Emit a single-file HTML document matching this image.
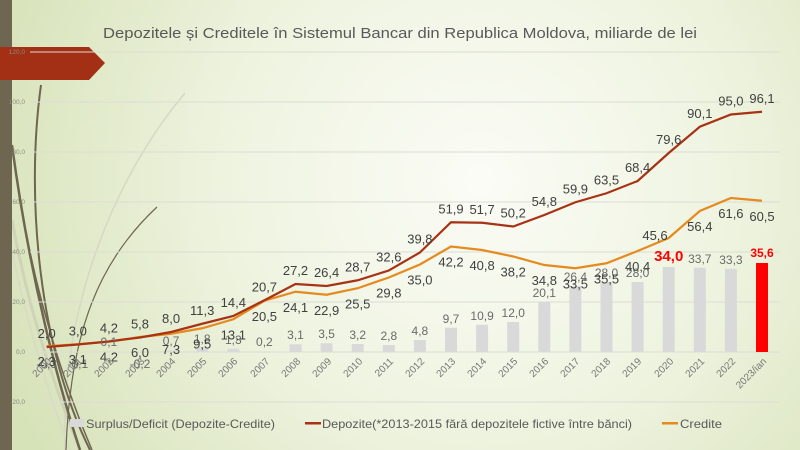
<!DOCTYPE html>
<html><head><meta charset="utf-8"><style>
html,body{margin:0;padding:0;width:800px;height:450px;overflow:hidden}
svg{display:block;font-family:"Liberation Sans",sans-serif}
</style></head><body>
<svg width="800" height="450" viewBox="0 0 800 450" xmlns="http://www.w3.org/2000/svg">
<defs>
<radialGradient id="bg" cx="480" cy="180" r="520" gradientUnits="userSpaceOnUse">
<stop offset="0" stop-color="#fbfcf6"/><stop offset="0.5" stop-color="#eef3df"/><stop offset="1" stop-color="#d6e2b8"/>
</radialGradient>
</defs>
<rect width="800" height="450" fill="url(#bg)"/>
<!-- decorative curves -->
<g fill="none">
<path d="M185,93 C120,170 60,300 65,450" stroke="#d6d8c4" stroke-width="1.5"/>
<path d="M12,220 C30,320 60,400 80,450" stroke="#cfd3b8" stroke-width="3"/>
<path d="M12,250 C30,340 55,410 70,450" stroke="#d8dcc4" stroke-width="2"/>
<path d="M41,85 C25,200 40,350 90,450" stroke="#6e6650" stroke-width="2"/>
<path d="M12,145 C30,280 60,390 80,450" stroke="#6e6650" stroke-width="2.5"/>
<path d="M20,200 C40,320 75,410 92,450" stroke="#6e6650" stroke-width="1.5"/>
<path d="M157,207 C100,260 70,330 66,450" stroke="#6e6650" stroke-width="1.2"/>
</g>
<rect x="0" y="0" width="12" height="450" fill="#6e6650"/>
<polygon points="0,47 89,47 105,63 89,80 0,80" fill="#a33015"/>
<!-- grid -->
<g stroke="#dcdcd4" stroke-width="1">
<line x1="30" x2="780" y1="52" y2="52"/><line x1="30" x2="780" y1="102" y2="102"/>
<line x1="30" x2="780" y1="152" y2="152"/><line x1="30" x2="780" y1="202" y2="202"/>
<line x1="30" x2="780" y1="252" y2="252"/><line x1="30" x2="780" y1="302" y2="302"/>
<line x1="30" x2="780" y1="352" y2="352"/><line x1="30" x2="780" y1="402" y2="402"/>
</g>
<g font-size="6.5" fill="#8a8a80" text-anchor="end">
<text x="25" y="54">120,0</text><text x="25" y="104">100,0</text><text x="25" y="154">80,0</text>
<text x="25" y="204">60,0</text><text x="25" y="254">40,0</text><text x="25" y="304">20,0</text>
<text x="25" y="354">0,0</text><text x="25" y="404">-20,0</text>
</g>
<text x="400" y="38" text-anchor="middle" font-size="15" fill="#595959" textLength="594" lengthAdjust="spacingAndGlyphs">Depozitele și Creditele în Sistemul Bancar din Republica Moldova, miliarde de lei</text>
<!-- bars -->
<g fill="#d9d9d9">
<rect x="40.7" y="352" width="12" height="0.75"/><rect x="71.8" y="352" width="12" height="0.25"/>
<rect x="102.9" y="351.75" width="12" height="0.25"/><rect x="134" y="352" width="12" height="0.5"/>
<rect x="165.1" y="350.25" width="12" height="1.75"/><rect x="196.2" y="347.5" width="12" height="4.5"/>
<rect x="227.3" y="348.75" width="12" height="3.25"/><rect x="258.4" y="351.5" width="12" height="0.5"/>
<rect x="289.5" y="344.25" width="12" height="7.75"/><rect x="320.6" y="343.25" width="12" height="8.75"/>
<rect x="351.7" y="344" width="12" height="8"/><rect x="382.8" y="345" width="12" height="7"/>
<rect x="413.9" y="340" width="12" height="12"/><rect x="445" y="327.75" width="12" height="24.25"/>
<rect x="476.1" y="324.75" width="12" height="27.25"/><rect x="507.2" y="322" width="12" height="30"/>
<rect x="538.3" y="301.75" width="12" height="50.25"/><rect x="569.4" y="286" width="12" height="66"/>
<rect x="600.5" y="282" width="12" height="70"/><rect x="631.6" y="282" width="12" height="70"/>
<rect x="662.7" y="267" width="12" height="85"/><rect x="693.8" y="267.75" width="12" height="84.25"/>
<rect x="724.9" y="268.75" width="12" height="83.25"/>
</g>
<rect x="756" y="263" width="12" height="89" fill="#ff0000"/>
<!-- lines -->
<polyline fill="none" stroke="#e58a1f" stroke-width="2.2" points="46.7,346.25 77.8,344.25 108.9,341.5 140,337 171.1,333.75 202.2,328.25 233.3,319.25 264.4,300.75 295.5,291.75 326.6,294.75 357.7,288.25 388.8,277.5 419.9,264.5 451,246.5 482.1,250 513.2,256.5 544.3,265 575.4,268.25 606.5,263.25 637.6,251 668.7,238 699.8,211 730.9,198 762,200.75"/>
<polyline fill="none" stroke="#a83214" stroke-width="2.2" points="46.7,347 77.8,344.5 108.9,341.5 140,337.5 171.1,332 202.2,323.75 233.3,316 264.4,300.25 295.5,284 326.6,286 357.7,280.25 388.8,270.5 419.9,252.5 451,222.25 482.1,222.75 513.2,226.5 544.3,215 575.4,202.25 606.5,193.25 637.6,181 668.7,153 699.8,126.75 730.9,114.5 762,111.75"/>
<!-- bar labels -->
<g font-size="12" fill="#6a6a6a" text-anchor="middle">
<text x="46.7" y="368">-0,3</text><text x="77.8" y="368">-0,1</text><text x="108.9" y="346">0,1</text><text x="140" y="368">-0,2</text>
<text x="171.1" y="345">0,7</text><text x="202.2" y="343">1,8</text><text x="233.3" y="344">1,3</text><text x="264.4" y="346">0,2</text>
<text x="295.5" y="339">3,1</text><text x="326.6" y="338">3,5</text><text x="357.7" y="339">3,2</text><text x="388.8" y="340">2,8</text>
<text x="419.9" y="335">4,8</text><text x="451" y="323">9,7</text><text x="482.1" y="320">10,9</text><text x="513.2" y="317">12,0</text>
<text x="544.3" y="297">20,1</text><text x="575.4" y="281">26,4</text><text x="606.5" y="277">28,0</text><text x="637.6" y="277">28,0</text>
<text x="699.8" y="263">33,7</text><text x="730.9" y="264">33,3</text>
</g>
<text x="668.7" y="261" font-size="15" font-weight="bold" fill="#ff0000" text-anchor="middle">34,0</text>
<text x="762" y="257" font-size="12" font-weight="bold" fill="#ff0000" text-anchor="middle">35,6</text>
<!-- depozite labels -->
<g font-size="13" fill="#404040" text-anchor="middle">
<text x="46.7" y="338">2,0</text><text x="77.8" y="335.5">3,0</text><text x="108.9" y="332.5">4,2</text><text x="140" y="328.5">5,8</text>
<text x="171.1" y="323">8,0</text><text x="202.2" y="314.75">11,3</text><text x="233.3" y="307">14,4</text><text x="264.4" y="291.25">20,7</text>
<text x="295.5" y="275">27,2</text><text x="326.6" y="277">26,4</text><text x="357.7" y="271.25">28,7</text><text x="388.8" y="261.5">32,6</text>
<text x="419.9" y="243.5">39,8</text><text x="451" y="213.25">51,9</text><text x="482.1" y="213.75">51,7</text><text x="513.2" y="217.5">50,2</text>
<text x="544.3" y="206">54,8</text><text x="575.4" y="193.25">59,9</text><text x="606.5" y="184.25">63,5</text><text x="637.6" y="172">68,4</text>
<text x="668.7" y="144">79,6</text><text x="699.8" y="117.75">90,1</text><text x="730.9" y="105.5">95,0</text><text x="762" y="102.75">96,1</text>
</g>
<!-- credite labels -->
<g font-size="13" fill="#404040" text-anchor="middle">
<text x="46.7" y="366">2,3</text><text x="77.8" y="364">3,1</text><text x="108.9" y="361.5">4,2</text><text x="140" y="357">6,0</text>
<text x="171.1" y="353.75">7,3</text><text x="202.2" y="348.25">9,5</text><text x="233.3" y="339.25">13,1</text><text x="264.4" y="320.75">20,5</text>
<text x="295.5" y="311.75">24,1</text><text x="326.6" y="314.75">22,9</text><text x="357.7" y="308.25">25,5</text><text x="388.8" y="297.5">29,8</text>
<text x="419.9" y="284.5">35,0</text><text x="451" y="266.5">42,2</text><text x="482.1" y="270">40,8</text><text x="513.2" y="276.5">38,2</text>
<text x="544.3" y="285">34,8</text><text x="575.4" y="288.25">33,5</text><text x="606.5" y="283.25">35,5</text><text x="637.6" y="271">40,4</text>
<text x="655" y="240">45,6</text><text x="699.8" y="231">56,4</text><text x="730.9" y="218">61,6</text><text x="762" y="220.75">60,5</text>
</g>
<!-- x labels -->
<g font-size="10" fill="#777">
<text transform="translate(52,362) rotate(-45)" text-anchor="end">2000</text>
<text transform="translate(83,362) rotate(-45)" text-anchor="end">2001</text>
<text transform="translate(114,362) rotate(-45)" text-anchor="end">2002</text>
<text transform="translate(145,362) rotate(-45)" text-anchor="end">2003</text>
<text transform="translate(176,362) rotate(-45)" text-anchor="end">2004</text>
<text transform="translate(207,362) rotate(-45)" text-anchor="end">2005</text>
<text transform="translate(238,362) rotate(-45)" text-anchor="end">2006</text>
<text transform="translate(270,362) rotate(-45)" text-anchor="end">2007</text>
<text transform="translate(301,362) rotate(-45)" text-anchor="end">2008</text>
<text transform="translate(332,362) rotate(-45)" text-anchor="end">2009</text>
<text transform="translate(363,362) rotate(-45)" text-anchor="end">2010</text>
<text transform="translate(394,362) rotate(-45)" text-anchor="end">2011</text>
<text transform="translate(425,362) rotate(-45)" text-anchor="end">2012</text>
<text transform="translate(456,362) rotate(-45)" text-anchor="end">2013</text>
<text transform="translate(487,362) rotate(-45)" text-anchor="end">2014</text>
<text transform="translate(518,362) rotate(-45)" text-anchor="end">2015</text>
<text transform="translate(549,362) rotate(-45)" text-anchor="end">2016</text>
<text transform="translate(580,362) rotate(-45)" text-anchor="end">2017</text>
<text transform="translate(611,362) rotate(-45)" text-anchor="end">2018</text>
<text transform="translate(642,362) rotate(-45)" text-anchor="end">2019</text>
<text transform="translate(674,362) rotate(-45)" text-anchor="end">2020</text>
<text transform="translate(705,362) rotate(-45)" text-anchor="end">2021</text>
<text transform="translate(736,362) rotate(-45)" text-anchor="end">2022</text>
<text transform="translate(767,362) rotate(-45)" text-anchor="end">2023/ian</text>
</g>
<!-- legend -->
<rect x="70" y="419" width="14" height="8" fill="#d9d9d9"/>
<text x="86" y="428" font-size="12" fill="#595959" textLength="189" lengthAdjust="spacingAndGlyphs">Surplus/Deficit (Depozite-Credite)</text>
<rect x="305" y="422" width="16" height="2.5" fill="#a83214"/>
<text x="322" y="428" font-size="12" fill="#595959" textLength="310" lengthAdjust="spacingAndGlyphs">Depozite(*2013-2015 fără depozitele fictive între bănci)</text>
<rect x="662" y="422" width="16" height="2.5" fill="#e58a1f"/>
<text x="680" y="428" font-size="12" fill="#595959" textLength="42" lengthAdjust="spacingAndGlyphs">Credite</text>
</svg>
</body></html>
